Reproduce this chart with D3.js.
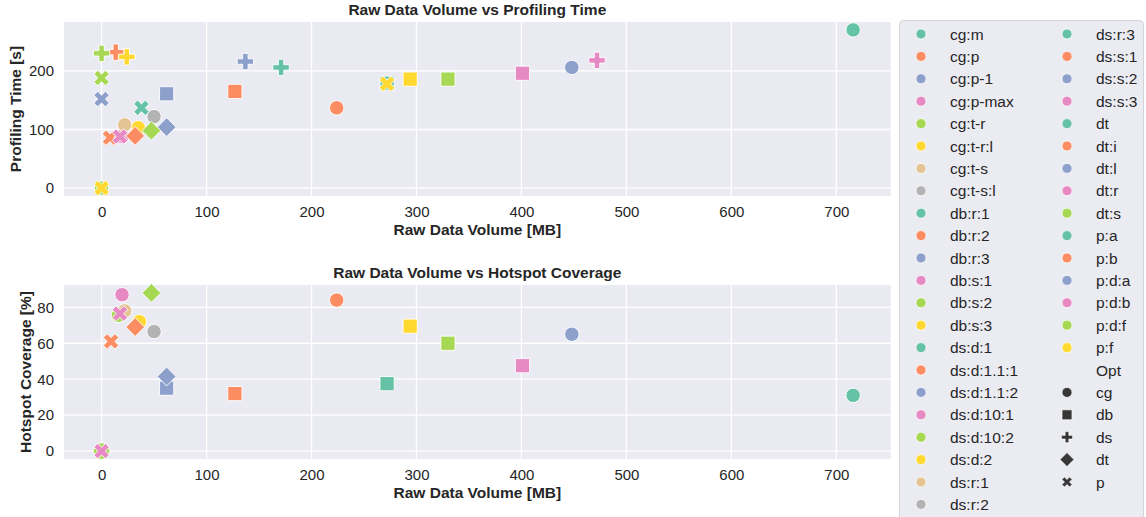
<!DOCTYPE html>
<html>
<head>
<meta charset="utf-8">
<script src="https://cdn.jsdelivr.net/npm/d3@7"></script>
<style>
  body { margin: 0; background: #fff; }
  svg text { font-family: "Liberation Sans", Arial, sans-serif; fill: #262626; }
</style>
</head>
<body>
<svg id="chart" width="1146" height="517"></svg>
<script>
// hue levels, in legend order (colour restarts for every Opt group)
var hueLabels = ["cg:m", "cg:p", "cg:p-1", "cg:p-max", "cg:t-r", "cg:t-r:l", "cg:t-s", "cg:t-s:l",
  "db:r:1", "db:r:2", "db:r:3", "db:s:1", "db:s:2", "db:s:3",
  "ds:d:1", "ds:d:1.1:1", "ds:d:1.1:2", "ds:d:10:1", "ds:d:10:2", "ds:d:2", "ds:r:1", "ds:r:2",
  "ds:r:3", "ds:s:1", "ds:s:2", "ds:s:3",
  "dt", "dt:i", "dt:l", "dt:r", "dt:s",
  "p:a", "p:b", "p:d:a", "p:d:b", "p:d:f", "p:f"];
var styleLabels = ["cg", "db", "ds", "dt", "p"];
var styleTitle = "Opt";

var xTicks = [0, 100, 200, 300, 400, 500, 600, 700];
var timeTicks = [0, 100, 200];
var coverageTicks = [0, 20, 40, 60, 80];

// [label, raw data volume MB, profiling time s]
var timePoints = [
  ["cg:m", 716, 270], ["cg:p", 224, 137], ["cg:p-1", 448, 206], ["cg:p-max", 19.5, 88],
  ["cg:t-r", 0, 0], ["cg:t-r:l", 35, 103], ["cg:t-s", 22, 108], ["cg:t-s:l", 50, 122],
  ["db:r:1", 272, 179], ["db:r:2", 127, 165], ["db:r:3", 62, 161], ["db:s:1", 401, 196],
  ["db:s:2", 330, 186], ["db:s:3", 294, 186],
  ["ds:d:1", 171, 206], ["ds:d:1.1:1", 13.5, 232], ["ds:d:1.1:2", 137, 216], ["ds:d:10:1", 472, 218],
  ["ds:d:10:2", 0, 230], ["ds:d:2", 24, 224],
  ["dt:i", 32, 89], ["dt:l", 62, 104], ["dt:s", 47.5, 98],
  ["p:a", 38, 137], ["p:b", 8, 86], ["p:d:a", 0, 152], ["p:d:b", 17.5, 88],
  ["p:d:f", 0, 188], ["p:f", 272, 178], ["p:f", 0, 0]
];

// [label, raw data volume MB, hotspot coverage %]
var coveragePoints = [
  ["cg:m", 716, 31], ["cg:p", 224, 84], ["cg:p-1", 448, 65], ["cg:p-max", 19.5, 87],
  ["cg:t-r", 16, 75.5], ["cg:t-r:l", 36, 72], ["cg:t-s", 22, 78], ["cg:t-s:l", 50, 66.5],
  ["db:r:1", 272, 37.5], ["db:r:2", 127, 32], ["db:r:3", 62, 35], ["db:s:1", 401, 47.5],
  ["db:s:2", 330, 60], ["db:s:3", 294, 69.5],
  ["ds:d:10:2", 0, 0],
  ["dt:i", 32, 69], ["dt:l", 62, 41.5], ["dt:s", 47.5, 88],
  ["p:b", 9, 61], ["p:d:b", 17.5, 76.5], ["p:d:b", 0, 0]
];

var svg = d3.select("#chart");
var palette = d3.schemeSet2;

function groupOf(label) { return label.split(":")[0]; }

// colour index restarts inside each group
var hueColor = {};
(function(){
  var counts = {};
  hueLabels.forEach(function(l){
    var g = groupOf(l);
    counts[g] = counts[g] || 0;
    hueColor[l] = palette[counts[g] % palette.length];
    counts[g]++;
  });
})();

function circlePath(r) {
  return "M" + r + ",0A" + r + "," + r + " 0 1,1 " + (-r) + ",0A" + r + "," + r + " 0 1,1 " + r + ",0Z";
}
// marker paths, sz = half size
function markerPath(style, sz) {
  if (style == "cg") return circlePath(sz);
  if (style == "db") {
    return "M" + (-sz) + "," + (-sz) + "H" + sz + "V" + sz + "H" + (-sz) + "Z";
  }
  if (style == "dt") {
    return "M0," + (-sz) + "L" + sz + ",0L0," + sz + "L" + (-sz) + ",0Z";
  }
  var t = sz / 3;
  var pts = [[-t,-sz],[t,-sz],[t,-t],[sz,-t],[sz,t],[t,t],[t,sz],[-t,sz],[-t,t],[-sz,t],[-sz,-t],[-t,-t]];
  if (style == "p") {
    var c = Math.SQRT1_2;
    pts = pts.map(function(p){ return [(p[0] - p[1]) * c, (p[0] + p[1]) * c]; });
  }
  return "M" + pts.map(function(p){ return p[0].toFixed(2) + "," + p[1].toFixed(2); }).join("L") + "Z";
}
var markerSize = { cg: 7.2, db: 7.1, ds: 8.2, dt: 9.4, p: 8.2 };

function drawPanel(cfg) {
  var left = 64, right = 890.7;
  var xs = cfg.points.map(function(d){ return d[1]; });
  var ys = cfg.points.map(function(d){ return d[2]; });
  var xMin = d3.min(xs), xMax = d3.max(xs), yMin = d3.min(ys), yMax = d3.max(ys);
  var mx = (xMax - xMin) * 0.05, my = (yMax - yMin) * 0.05;
  var x = d3.scaleLinear().domain([xMin - mx, xMax + mx]).range([left, right]);
  var y = d3.scaleLinear().domain([yMin - my, yMax + my]).range([cfg.bottom, cfg.top]);

  var g = svg.append("g");
  g.append("rect").attr("x", left).attr("y", cfg.top)
    .attr("width", right - left).attr("height", cfg.bottom - cfg.top).attr("fill", "#eaeaf2");

  g.selectAll(".vgrid").data(xTicks).enter().append("line")
    .attr("x1", function(d){ return x(d); }).attr("x2", function(d){ return x(d); })
    .attr("y1", cfg.top).attr("y2", cfg.bottom)
    .attr("stroke", "#fff").attr("stroke-width", 1.3);
  g.selectAll(".hgrid").data(cfg.yTicks).enter().append("line")
    .attr("x1", left).attr("x2", right)
    .attr("y1", function(d){ return y(d); }).attr("y2", function(d){ return y(d); })
    .attr("stroke", "#fff").attr("stroke-width", 1.3);

  var xAxis = g.append("g").attr("transform", "translate(0," + cfg.bottom + ")")
    .call(d3.axisBottom(x).tickValues(xTicks).tickSize(0).tickPadding(10));
  var yAxis = g.append("g").attr("transform", "translate(" + left + ",0)")
    .call(d3.axisLeft(y).tickValues(cfg.yTicks).tickSize(0).tickPadding(10));
  [xAxis, yAxis].forEach(function(a){
    a.select(".domain").remove();
    a.selectAll("text").attr("font-size", "15px").attr("font-family", null).style("fill", "#262626");
  });

  g.append("text").attr("x", (left + right) / 2).attr("y", cfg.top - 7)
    .attr("text-anchor", "middle").attr("font-size", "15.5px").attr("font-weight", "bold")
    .text(cfg.title);
  g.append("text").attr("x", (left + right) / 2).attr("y", cfg.bottom + 39)
    .attr("text-anchor", "middle").attr("font-size", "15.5px").attr("font-weight", "bold")
    .text("Raw Data Volume [MB]");
  g.append("text")
    .attr("transform", "translate(" + cfg.ylabelX + "," + ((cfg.top + cfg.bottom) / 2) + ") rotate(-90)")
    .attr("text-anchor", "middle").attr("font-size", "15.5px").attr("font-weight", "bold")
    .text(cfg.ylabel);

  g.selectAll(".pt").data(cfg.points).enter().append("path")
    .attr("transform", function(d){ return "translate(" + x(d[1]) + "," + y(d[2]) + ")"; })
    .attr("d", function(d){ var s = groupOf(d[0]); return markerPath(s, markerSize[s]); })
    .attr("fill", function(d){ return hueColor[d[0]]; })
    .attr("stroke", "#fff").attr("stroke-width", 0.9);
}

drawPanel({ points: timePoints, top: 22, bottom: 196, yTicks: timeTicks,
  title: "Raw Data Volume vs Profiling Time", ylabel: "Profiling Time [s]", ylabelX: 21 });
drawPanel({ points: coveragePoints, top: 285, bottom: 459, yTicks: coverageTicks,
  title: "Raw Data Volume vs Hotspot Coverage", ylabel: "Hotspot Coverage [%]", ylabelX: 31 });

// legend
var entries = hueLabels.map(function(l){ return { text: l, kind: "hue", key: l }; });
entries.push({ text: styleTitle, kind: "title" });
styleLabels.forEach(function(s){ entries.push({ text: s, kind: "style", key: s }); });

var perCol = Math.ceil(entries.length / 2);
var lg = svg.append("g");
lg.append("rect").attr("x", 899.5).attr("y", 20.5).attr("width", 244).attr("height", 510)
  .attr("rx", 4).attr("fill", "#ebebf2").attr("stroke", "#d4d4d8").attr("stroke-width", 1);

var item = lg.selectAll(".item").data(entries).enter().append("g")
  .attr("transform", function(d, i){
    var col = Math.floor(i / perCol), row = i % perCol;
    return "translate(" + (col ? 1067 : 921) + "," + (34 + row * 22.4) + ")";
  });
item.filter(function(d){ return d.kind == "hue"; }).append("path")
  .attr("d", circlePath(5))
  .attr("fill", function(d){ return hueColor[d.key]; })
  .attr("stroke", "#fff").attr("stroke-width", 0.7);
item.filter(function(d){ return d.kind == "style"; }).append("path")
  .attr("d", function(d){ return markerPath(d.key, { cg: 5, db: 5, ds: 5.6, dt: 7, p: 5.4 }[d.key]); })
  .attr("fill", "#373737")
  .attr("stroke", "#fff").attr("stroke-width", 0.7);
item.append("text").attr("x", 29).attr("y", 5.5)
  .attr("font-size", "15.5px")
  .text(function(d){ return d.text; });
</script>
</body>
</html>
